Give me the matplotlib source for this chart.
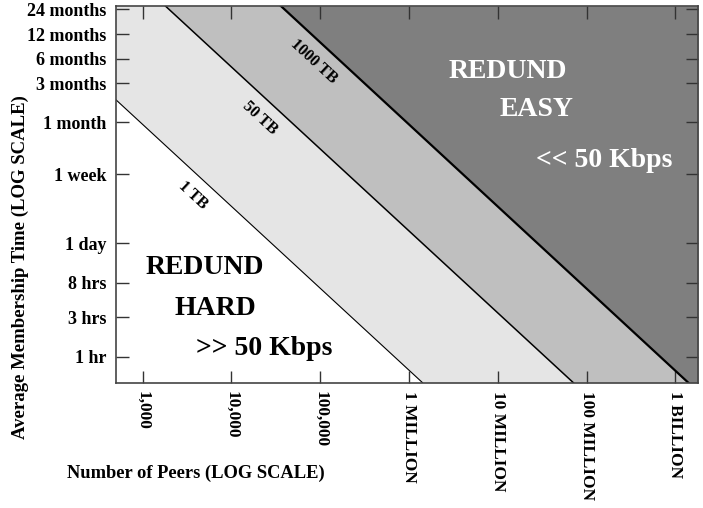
import matplotlib
matplotlib.use("Agg")
import matplotlib.pyplot as plt

plt.rcParams['font.family'] = ['Liberation Serif', 'DejaVu Serif']
plt.rcParams['font.weight'] = 'bold'

# axis ticks
peer_ticks = [1e3, 1e4, 1e5, 1e6, 1e7, 1e8, 1e9]
peer_labels = ["1,000", "10,000", "100,000", "1 MILLION", "10 MILLION",
               "100 MILLION", "1 BILLION"]
hour_ticks = [1, 3, 8, 24, 168, 720, 2160, 4320, 8640, 17280]
hour_labels = ["1 hr", "3 hrs", "8 hrs", "1 day", "1 week", "1 month",
               "3 months", "6 months", "12 months", "24 months"]

# storage lines: endpoints (peers, hours)
tb_names = ["1 TB", "50 TB", "1000 TB"]
tb_peers = [[500, 1.42e6], [1800, 7.1e7], [36000, 1.4e9]]
tb_hours = [[1360, 0.48], [19000, 0.48], [19000, 0.48]]
tb_fill = ["#e5e5e5", "#bfbfbf", "#7f7f7f"]
tb_lw = [0.8, 1.1, 1.6]

xmin, xmax = 500, 1.8e9
ymin, ymax = 0.48, 19000

fig = plt.figure(figsize=(7.03, 5.08), dpi=100)
ax = fig.add_axes([116/703, 1 - 382.7/508, 582/703, 376.7/508])
ax.set_xscale('log')
ax.set_yscale('log')
ax.set_xlim(xmin, xmax)
ax.set_ylim(ymin, ymax)

for px, hy, col in zip(tb_peers, tb_hours, tb_fill):
    xs = [xmin, px[0], px[1], xmax]
    ys = [ymax if px[0] > xmin else hy[0], hy[0], hy[1], ymin]
    ax.fill_between(xs, ys, ymax, color=col, linewidth=0, zorder=1)
for px, hy, lw in zip(tb_peers, tb_hours, tb_lw):
    ax.plot(px, hy, color='black', linewidth=lw, zorder=2)

# line labels
label_pos = [(0.132, 0.498), (0.247, 0.703), (0.340, 0.853)]
for name, (fx, fy) in zip(tb_names, label_pos):
    ax.text(fx, fy, name, transform=ax.transAxes, rotation=-42.7,
            rotation_mode='anchor', ha='center', va='center',
            fontsize=11.5, fontweight='bold', zorder=3)

# region text
ax.text(0.153, 0.307, "REDUND", transform=ax.transAxes, ha='center',
        va='center', fontsize=20, fontweight='bold')
ax.text(0.170, 0.198, "HARD", transform=ax.transAxes, ha='center',
        va='center', fontsize=20, fontweight='bold')
ax.text(0.254, 0.092, ">> 50 Kbps", transform=ax.transAxes, ha='center',
        va='center', fontsize=20, fontweight='bold')
ax.text(0.674, 0.827, "REDUND", transform=ax.transAxes, ha='center',
        va='center', fontsize=20, fontweight='bold', color='white')
ax.text(0.722, 0.724, "EASY", transform=ax.transAxes, ha='center',
        va='center', fontsize=20, fontweight='bold', color='white')
ax.text(0.839, 0.589, "<< 50 Kbps", transform=ax.transAxes, ha='center',
        va='center', fontsize=20, fontweight='bold', color='white')

ax.set_xticks(peer_ticks)
ax.set_xticklabels(peer_labels, rotation=-90, fontsize=12.5,
                   fontweight='bold', va='top', ha='center')
ax.set_yticks(hour_ticks)
ax.set_yticklabels(hour_labels, fontsize=13, fontweight='bold')
ax.minorticks_off()
ax.tick_params(axis='both', direction='in', length=9, width=1,
               top=True, right=True, color='#333333')
ax.tick_params(axis='x', pad=6)
ax.tick_params(axis='y', pad=7)
for s in ax.spines.values():
    s.set_color('#444444')
    s.set_linewidth(1.2)
    s.set_zorder(4)

fig.text(20/703, 1 - 267/508, "Average Membership Time (LOG SCALE)",
         rotation=90, ha='center', va='center', fontsize=13.5,
         fontweight='bold')
fig.text(196/703, 1 - 473/508, "Number of Peers (LOG SCALE)",
         ha='center', va='center', fontsize=13.3, fontweight='bold')

fig.savefig("out.png", dpi=100)
